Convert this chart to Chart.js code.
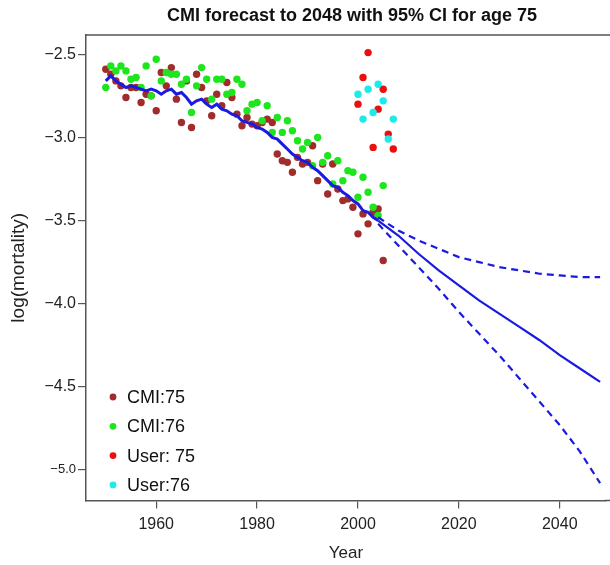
<!DOCTYPE html>
<html>
<head>
<meta charset="utf-8">
<title>CMI forecast</title>
<script src="https://cdn.jsdelivr.net/npm/chart.js@4.4.1/dist/chart.umd.min.js"></script>
<style>
  html, body { margin: 0; padding: 0; background: #fff; }
  canvas { display: block; }
</style>
</head>
<body>
<canvas id="chart" width="610" height="565"></canvas>
<script>
// observed years for the CMI data
const cmiYears = [1950, 1951, 1952, 1953, 1954, 1955, 1956, 1957, 1958, 1959,
  1960, 1961, 1962, 1963, 1964, 1965, 1966, 1967, 1968, 1969,
  1970, 1971, 1972, 1973, 1974, 1975, 1976, 1977, 1978, 1979,
  1980, 1981, 1982, 1983, 1984, 1985, 1986, 1987, 1988, 1989,
  1990, 1991, 1992, 1993, 1994, 1995, 1996, 1997, 1998, 1999,
  2000, 2001, 2002, 2003, 2004, 2005];

const cmi75 = [-2.59, -2.62, -2.66, -2.69, -2.76, -2.70, -2.70, -2.79, -2.74, -2.75,
  -2.84, -2.61, -2.69, -2.58, -2.77, -2.91, -2.66, -2.94, -2.62, -2.70,
  -2.78, -2.87, -2.74, -2.81, -2.67, -2.76, -2.86, -2.93, -2.88, -2.92,
  -2.93, -2.91, -2.89, -2.91, -3.10, -3.14, -3.15, -3.21, -3.12, -3.16,
  -3.15, -3.05, -3.26, -3.16, -3.34, -3.16, -3.31, -3.38, -3.37, -3.42,
  -3.58, -3.46, -3.52, -3.45, -3.43, -3.74];

const cmi76 = [-2.70, -2.57, -2.60, -2.57, -2.60, -2.65, -2.64, -2.70, -2.57, -2.75,
  -2.53, -2.66, -2.61, -2.62, -2.62, -2.68, -2.65, -2.85, -2.69, -2.58,
  -2.65, -2.77, -2.65, -2.65, -2.74, -2.73, -2.65, -2.68, -2.84, -2.80,
  -2.79, -2.90, -2.81, -2.97, -2.88, -2.97, -2.90, -2.96, -3.02, -3.07,
  -3.03, -3.17, -3.00, -3.15, -3.11, -3.28, -3.14, -3.26, -3.20, -3.21,
  -3.36, -3.24, -3.33, -3.42, -3.47, -3.29];

// fitted CMI curve, 1950-2004
const fitYears = cmiYears.slice(0, 55);
const fitted = [-2.66, -2.63, -2.66, -2.68, -2.70, -2.69, -2.70, -2.71, -2.72, -2.71,
  -2.72, -2.74, -2.72, -2.71, -2.74, -2.73, -2.76, -2.80, -2.78, -2.77,
  -2.80, -2.82, -2.80, -2.83, -2.84, -2.86, -2.87, -2.90, -2.91, -2.92,
  -2.94, -2.95, -2.97, -3.00, -3.01, -3.04, -3.07, -3.10, -3.12, -3.14,
  -3.15, -3.18, -3.20, -3.23, -3.26, -3.29, -3.30, -3.33, -3.35, -3.38,
  -3.40, -3.44, -3.45, -3.48, -3.50];

// user supplied rates
const userYears = [2000, 2001, 2002, 2003, 2004, 2005, 2006, 2007];
const user75 = [-2.80, -2.64, -2.49, -3.06, -2.83, -2.71, -2.98, -3.07];
const user76 = [-2.74, -2.89, -2.71, -2.85, -2.68, -2.78, -3.01, -2.89];

// forecast with 95% CI
const fcYears = [2004, 2008, 2012, 2016, 2020, 2024, 2028, 2032, 2036, 2040, 2044, 2048];
const fcMid   = [-3.50, -3.59, -3.70, -3.80, -3.89, -3.98, -4.06, -4.14, -4.22, -4.31, -4.39, -4.47];
const fcUpper = [-3.48, -3.56, -3.62, -3.67, -3.72, -3.75, -3.78, -3.80, -3.82, -3.83, -3.84, -3.84];
const fcLower = [-3.52, -3.65, -3.78, -3.91, -4.05, -4.18, -4.31, -4.45, -4.59, -4.73, -4.89, -5.08];

const xTicks = [1960, 1980, 2000, 2020, 2040];
const yTicks = [-5.0, -4.5, -4.0, -3.5, -3.0, -2.5];

const toXY = (xs, ys) => xs.map((x, i) => ({ x: x, y: ys[i] }));

const BROWN = '#a02c2c';
const GREEN = '#1ee61e';
const RED = '#e81010';
const CYAN = '#1eeaea';
const BLUE = '#1a1ae0';
const FONT = "'Liberation Sans', Arial, sans-serif";

function lineSet(xs, ys, width, dash) {
  return {
    type: 'line',
    data: toXY(xs, ys),
    borderColor: BLUE,
    borderWidth: width,
    borderDash: dash,
    pointRadius: 0,
    tension: 0,
    fill: false
  };
}

function pointSet(label, xs, ys, color) {
  return {
    type: 'scatter',
    label: label,
    data: toXY(xs, ys),
    backgroundColor: color,
    borderColor: color,
    borderWidth: 0,
    pointRadius: 3.7
  };
}

// legend entries drawn inside the plot, bottom-left
const legendItems = [
  { text: 'CMI:75', color: BROWN },
  { text: 'CMI:76', color: GREEN },
  { text: 'User: 75', color: RED },
  { text: 'User:76', color: CYAN }
];

const decorations = {
  id: 'decorations',
  afterDraw(chart) {
    const ctx = chart.ctx;
    const area = chart.chartArea;
    ctx.save();
    // box continues past the right edge of the picture
    ctx.strokeStyle = '#555';
    ctx.lineWidth = 1.5;
    ctx.beginPath();
    ctx.moveTo(area.left, area.top);
    ctx.lineTo(chart.width, area.top);
    ctx.moveTo(area.right - 1, area.bottom);
    ctx.lineTo(chart.width, area.bottom);
    ctx.stroke();

    // title
    ctx.fillStyle = '#111';
    ctx.font = 'bold 18px ' + FONT;
    ctx.textAlign = 'center';
    ctx.textBaseline = 'middle';
    ctx.fillText('CMI forecast to 2048 with 95% CI for age 75', 352, 16);

    // legend
    ctx.font = '18px ' + FONT;
    ctx.textAlign = 'left';
    legendItems.forEach((item, i) => {
      const y = 397 + i * 29.3;
      ctx.fillStyle = item.color;
      ctx.beginPath();
      ctx.arc(113, y, 3.4, 0, Math.PI * 2);
      ctx.fill();
      ctx.fillStyle = '#111';
      ctx.fillText(item.text, 127, y + 1);
    });
    ctx.restore();
  }
};

new Chart(document.getElementById('chart'), {
  data: {
    datasets: [
      lineSet(fitYears, fitted, 3, []),
      lineSet(fcYears, fcMid, 2.2, []),
      lineSet(fcYears, fcUpper, 2.2, [7, 5]),
      lineSet(fcYears, fcLower, 2.2, [7, 5]),
      pointSet('User:76', userYears, user76, CYAN),
      pointSet('User: 75', userYears, user75, RED),
      pointSet('CMI:76', cmiYears, cmi76, GREEN),
      pointSet('CMI:75', cmiYears, cmi75, BROWN)
    ]
  },
  options: {
    responsive: false,
    animation: false,
    layout: { padding: { top: 35, left: 0, right: 0, bottom: 0 } },
    plugins: {
      legend: { display: false },
      title: { display: false },
      tooltip: { enabled: false }
    },
    scales: {
      x: {
        type: 'linear',
        min: 1946.08,
        max: 2049.17,
        afterBuildTicks: s => { s.ticks = xTicks.map(v => ({ value: v })); },
        afterFit: s => { s.height = 64.5; },
        ticks: {
          color: '#222',
          font: { family: FONT, size: 16 },
          padding: 6,
          maxRotation: 0,
          autoSkip: false,
          callback: v => String(v)
        },
        grid: { drawOnChartArea: false, drawTicks: true, tickLength: 8, color: '#555', lineWidth: 1.2 },
        border: { display: true, color: '#555', width: 1.5 },
        title: {
          display: true,
          text: 'Year',
          color: '#222',
          font: { family: FONT, size: 17 },
          padding: { top: 0, bottom: 1.4 }
        }
      },
      y: {
        type: 'linear',
        min: -5.184,
        max: -2.384,
        afterBuildTicks: s => { s.ticks = yTicks.map(v => ({ value: v })); },
        afterFit: s => { s.width = 86; },
        ticks: {
          color: '#222',
          font: ctx => ({ family: FONT, size: ctx.tick && ctx.tick.value === -5 ? 13 : 16 }),
          padding: 2,
          autoSkip: false,
          callback: v => '\u2212' + Math.abs(v).toFixed(1)
        },
        grid: { drawOnChartArea: false, drawTicks: true, tickLength: 8, color: '#555', lineWidth: 1.2 },
        border: { display: true, color: '#555', width: 1.5 },
        title: {
          display: true,
          text: 'log(mortality)',
          color: '#222',
          font: { family: FONT, size: 19 },
          padding: { top: 7, bottom: 0 }
        }
      }
    }
  },
  plugins: [decorations]
});
</script>
</body>
</html>
